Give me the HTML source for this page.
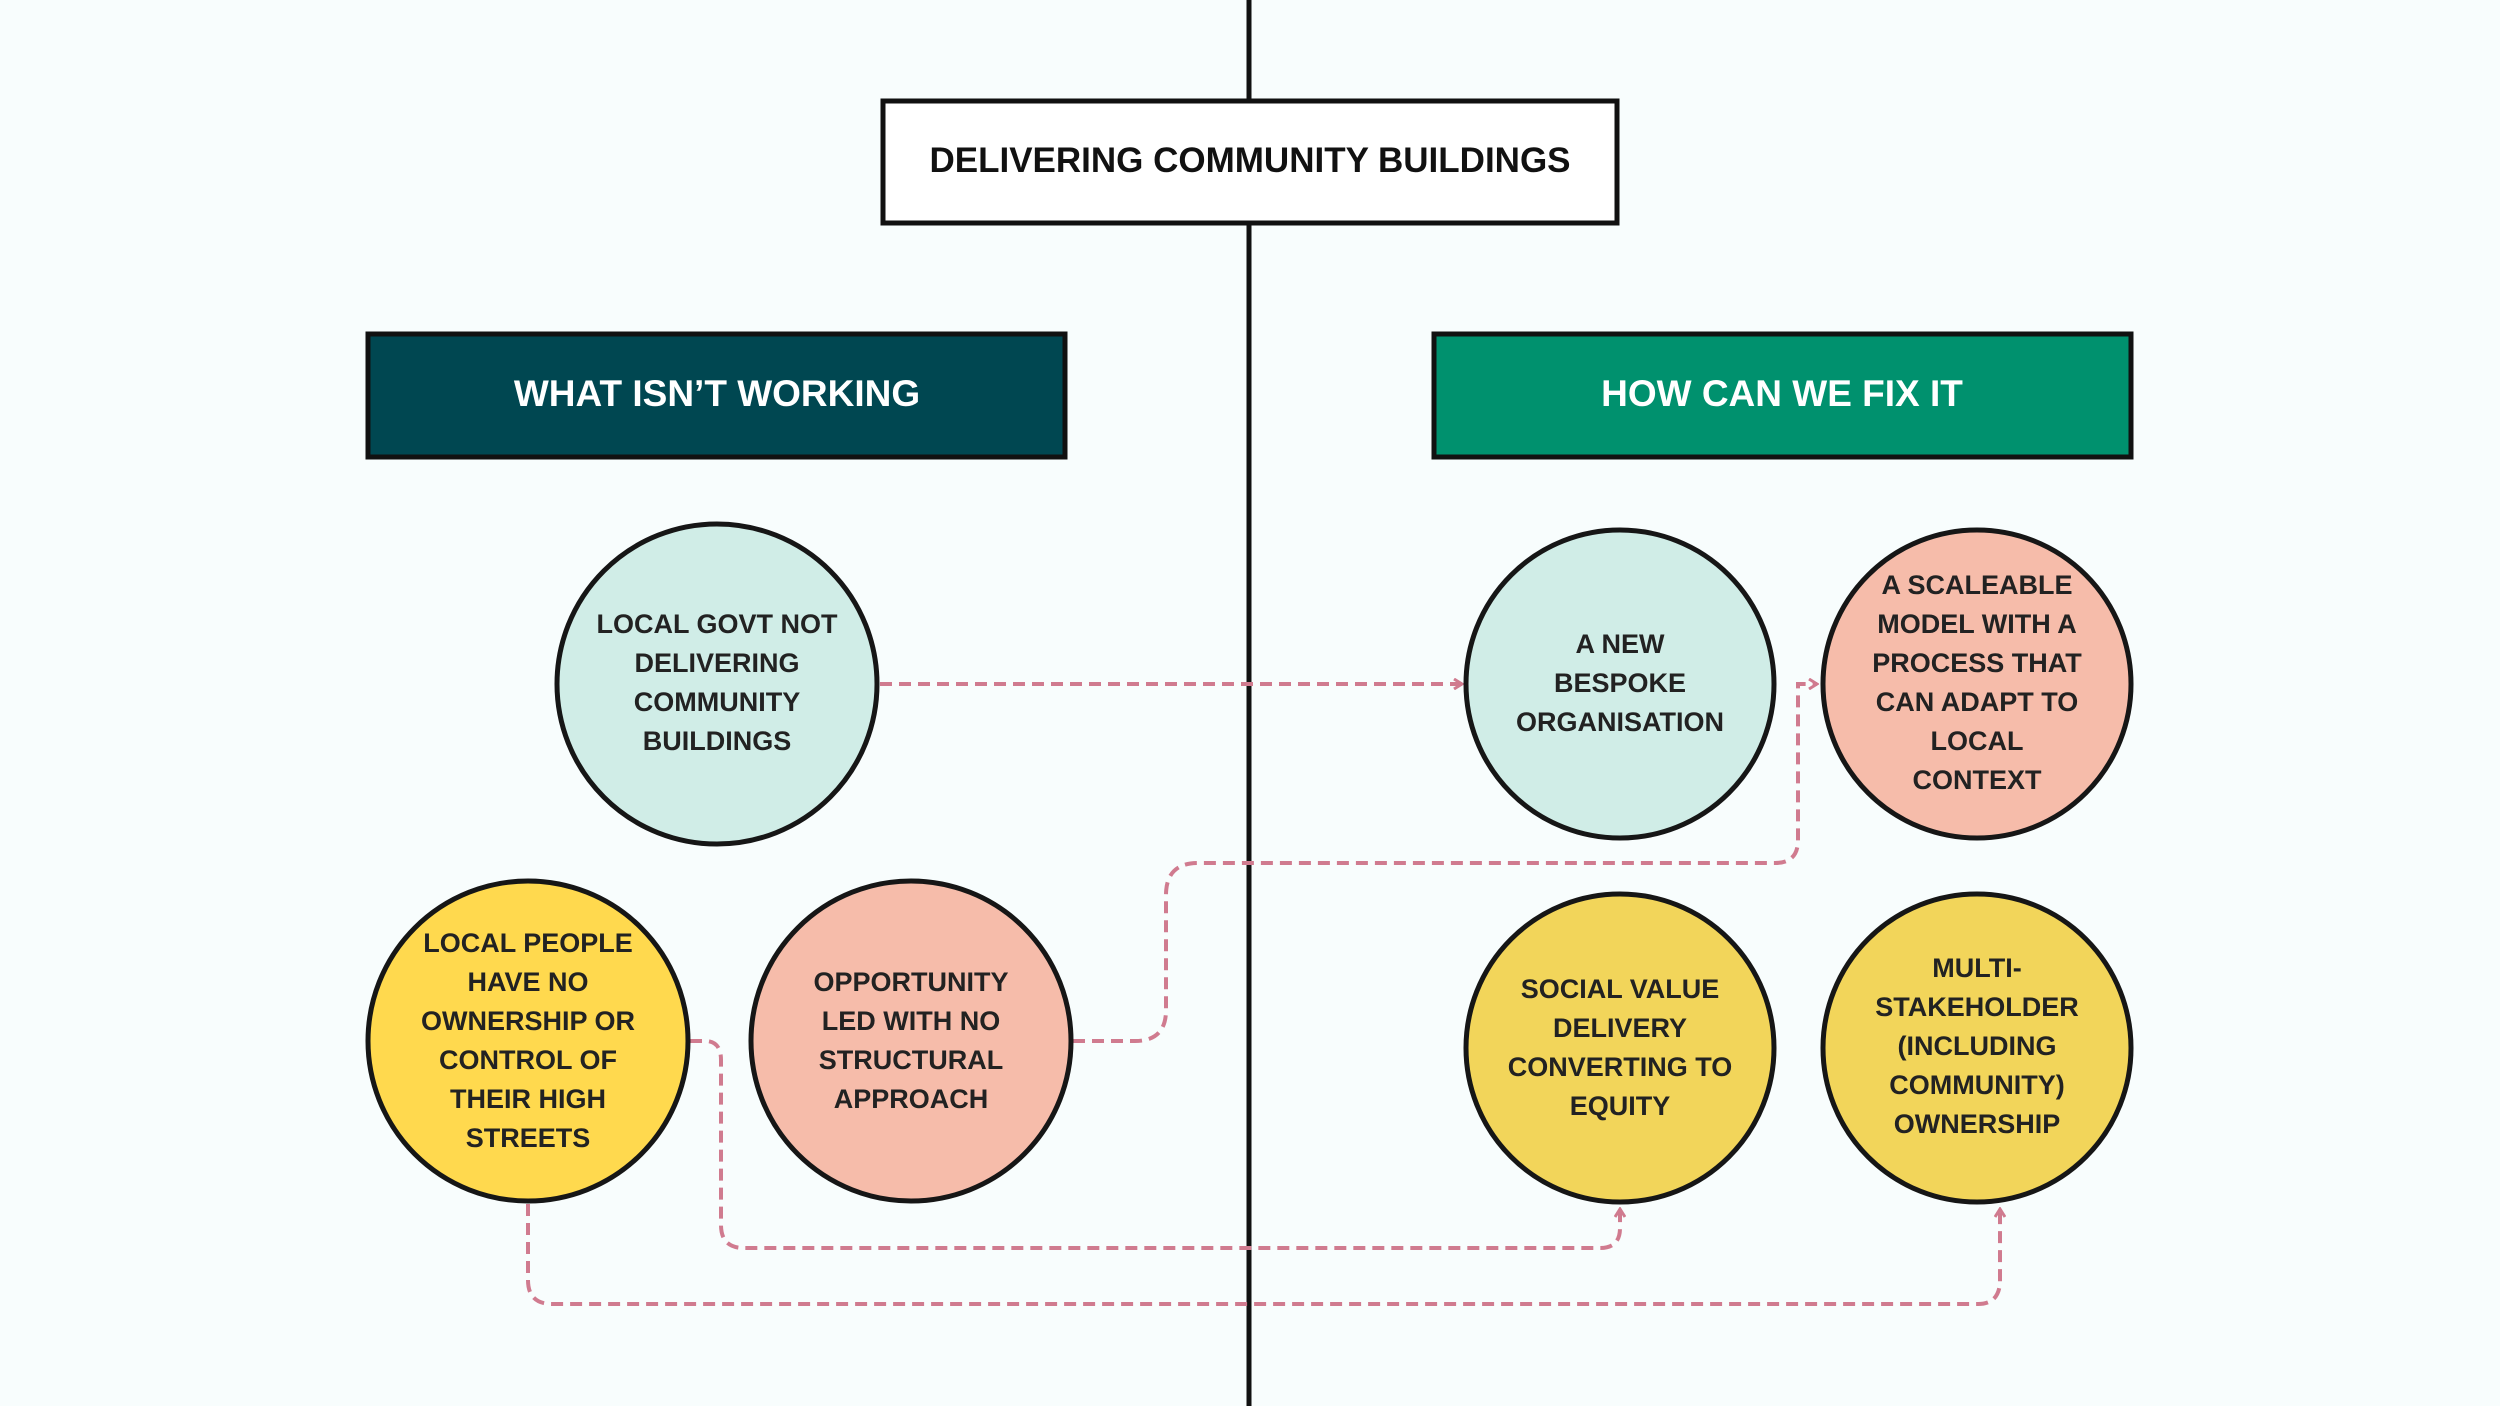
<!DOCTYPE html>
<html><head><meta charset="utf-8"><style>
html,body{margin:0;padding:0;background:#f8fdfd;}
svg{display:block}
text{font-family:"Liberation Sans",sans-serif;font-weight:bold;}
</style></head><body>
<svg width="2500" height="1406" viewBox="0 0 2500 1406" xmlns="http://www.w3.org/2000/svg">
<rect width="2500" height="1406" fill="#f8fdfd"/>
<line x1="1249" y1="0" x2="1249" y2="1406" stroke="#111" stroke-width="5"/>
<rect x="883" y="101" width="734" height="122" fill="#fff" stroke="#111" stroke-width="5"/>
<text x="1250" y="172" text-anchor="middle" font-size="35" fill="#111">DELIVERING COMMUNITY BUILDINGS</text>
<rect x="368" y="334" width="697" height="123" fill="#004751" stroke="#111" stroke-width="5"/>
<text x="717" y="406" text-anchor="middle" font-size="37" fill="#fff">WHAT ISN’T WORKING</text>
<rect x="1434" y="334" width="697" height="123" fill="#00916e" stroke="#111" stroke-width="5"/>
<text x="1782" y="406" text-anchor="middle" font-size="37" fill="#fff">HOW CAN WE FIX IT</text>
<defs><marker id="a" markerWidth="12" markerHeight="12" refX="10" refY="6" orient="auto" markerUnits="userSpaceOnUse"><path d="M2,1 L10,6 L2,11" fill="none" stroke="#d07b8f" stroke-width="3"/></marker></defs>
<g fill="none" stroke="#d07b8f" stroke-width="4" stroke-dasharray="12 7">
<path d="M880 684 H1462" marker-end="url(#a)"/>
<path d="M1073 1041 H1135 Q1166 1041 1166 1010 V895 Q1166 863 1198 863 H1775 Q1798 863 1798 840 V684 H1817" marker-end="url(#a)"/>
<path d="M690 1041 H705 Q721 1041 721 1060 V1225 Q721 1248 744 1248 H1600 Q1620 1248 1620 1228 V1209" marker-end="url(#a)"/>
<path d="M528 1204 V1280 Q528 1304 552 1304 H1978 Q2000 1304 2000 1280 V1209" marker-end="url(#a)"/>
</g>
<g stroke="#161616" stroke-width="5">
<circle cx="717" cy="684" r="160" fill="#d0ede7"/>
<circle cx="1620" cy="684" r="154" fill="#d0ede7"/>
<circle cx="1977" cy="684" r="154" fill="#f6bcaa"/>
<circle cx="528" cy="1041" r="160" fill="#ffd94e"/>
<circle cx="911" cy="1041" r="160" fill="#f6bcaa"/>
<circle cx="1620" cy="1048" r="154" fill="#f2d55a"/>
<circle cx="1977" cy="1048" r="154" fill="#f2d55a"/>
</g>
<g font-size="27" fill="#222" text-anchor="middle">
<text x="717" y="633">LOCAL GOVT NOT</text><text x="717" y="672">DELIVERING</text><text x="717" y="711">COMMUNITY</text><text x="717" y="750">BUILDINGS</text>
<text x="1620" y="653">A NEW</text><text x="1620" y="692">BESPOKE</text><text x="1620" y="731">ORGANISATION</text>
<text x="1977" y="594">A SCALEABLE</text><text x="1977" y="633">MODEL WITH A</text><text x="1977" y="672">PROCESS THAT</text><text x="1977" y="711">CAN ADAPT TO</text><text x="1977" y="750">LOCAL</text><text x="1977" y="789">CONTEXT</text>
<text x="528" y="952">LOCAL PEOPLE</text><text x="528" y="991">HAVE NO</text><text x="528" y="1030">OWNERSHIP OR</text><text x="528" y="1069">CONTROL OF</text><text x="528" y="1108">THEIR HIGH</text><text x="528" y="1147">STREETS</text>
<text x="911" y="991">OPPORTUNITY</text><text x="911" y="1030">LED WITH NO</text><text x="911" y="1069">STRUCTURAL</text><text x="911" y="1108">APPROACH</text>
<text x="1620" y="998">SOCIAL VALUE</text><text x="1620" y="1037">DELIVERY</text><text x="1620" y="1076">CONVERTING TO</text><text x="1620" y="1115">EQUITY</text>
<text x="1977" y="977">MULTI-</text><text x="1977" y="1016">STAKEHOLDER</text><text x="1977" y="1055">(INCLUDING</text><text x="1977" y="1094">COMMUNITY)</text><text x="1977" y="1133">OWNERSHIP</text>
</g>
</svg>
</body></html>
